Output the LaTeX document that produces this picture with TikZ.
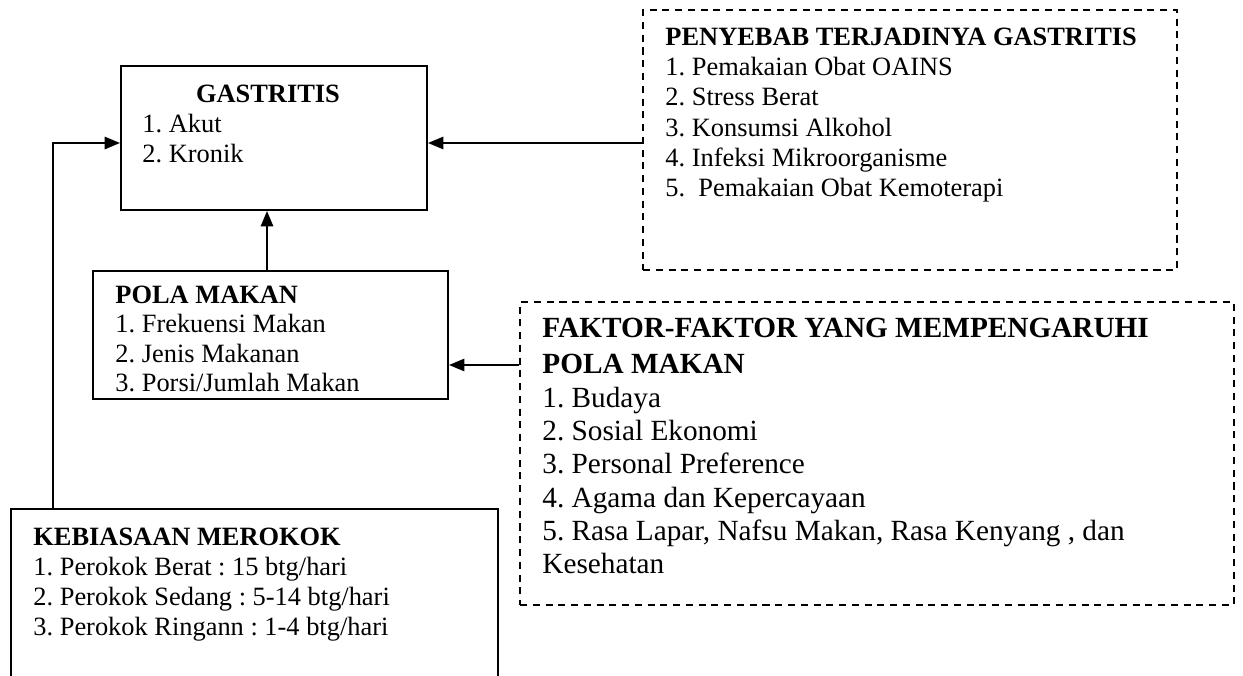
\documentclass[tikz,border=0pt]{standalone}
\usepackage{fontspec}
\setmainfont{Liberation Serif}
\usetikzlibrary{arrows.meta,fit}
\frenchspacing
\begin{document}
\begin{tikzpicture}[x=0.4545pt,y=-0.4545pt,
  box/.style={draw,line width=0.9pt,inner sep=0pt},
  dbox/.style={draw,line width=0.9pt,inner sep=0pt,dash pattern=on 3.2pt off 2.6pt},
  arr/.style={line width=0.9pt,-{Triangle[length=7pt,width=5.6pt]}},
  txt/.style={anchor=base west,inner sep=0pt,font=\fontsize{12}{13.6}\selectfont\frenchspacing},
  btxt/.style={txt,font=\fontsize{12}{13.6}\selectfont\bfseries\frenchspacing},
  ftxt/.style={anchor=base west,inner sep=0pt,font=\fontsize{13.3}{15}\selectfont\frenchspacing},
  fbtxt/.style={ftxt,font=\fontsize{13.3}{15}\selectfont\bfseries\frenchspacing}]
\useasboundingbox (0,0) rectangle (1243,675);
% boxes
\node[box,fit={(121,66) (427,210)}] (gas) {};
\node[dbox,fit={(643,10) (1177,270)}] (peny) {};
\node[box,fit={(93,271) (448,399)}] (pola) {};
\node[dbox,fit={(520,302) (1234,605)}] (fak) {};
\node[inner sep=0pt,fit={(11,509) (498,680)}] (keb) {};
\draw[line width=0.9pt] (keb.south west) -- (keb.north west) -- (keb.north east) -- (keb.south east);
% GASTRITIS text
\node[btxt,anchor=base] (gas0) at (268,102) {GASTRITIS};
\node[txt] (gas1) at (142,132) {1. Akut};
\node[txt] (gas2) at (142,162) {2. Kronik};
% PENYEBAB text
\node[btxt] (pen0) at (665,45) {PENYEBAB TERJADINYA GASTRITIS};
\node[txt] (pen1) at (665,75) {1. Pemakaian Obat OAINS};
\node[txt] (pen2) at (665,105) {2. Stress Berat};
\node[txt] (pen3) at (665,136) {3. Konsumsi Alkohol};
\node[txt] (pen4) at (665,166) {4. Infeksi Mikroorganisme};
\node[txt] (pen5) at (665,196) {5.\ \ Pemakaian Obat Kemoterapi};
% POLA MAKAN text
\node[btxt] (pol0) at (115,303) {POLA MAKAN};
\node[txt] (pol1) at (115,332) {1. Frekuensi Makan};
\node[txt] (pol2) at (115,362) {2. Jenis Makanan};
\node[txt] (pol3) at (115,391) {3. Porsi/Jumlah Makan};
% FAKTOR text
\node[fbtxt] (fak0) at (542,337) {FAKTOR-FAKTOR YANG MEMPENGARUHI};
\node[fbtxt] (fak1) at (542,373) {POLA MAKAN};
\node[ftxt] (fak2) at (542,407) {1. Budaya};
\node[ftxt] (fak3) at (542,440) {2. Sosial Ekonomi};
\node[ftxt] (fak4) at (542,473) {3. Personal Preference};
\node[ftxt] (fak5) at (542,507) {4. Agama dan Kepercayaan};
\node[ftxt] (fak6) at (542,540) {5. Rasa Lapar, Nafsu Makan, Rasa Kenyang , dan};
\node[ftxt] (fak7) at (542,573) {Kesehatan};
% KEBIASAAN text
\node[btxt] (keb0) at (33,545) {KEBIASAAN MEROKOK};
\node[txt] (keb1) at (33,575) {1. Perokok Berat : 15 btg/hari};
\node[txt] (keb2) at (33,605) {2. Perokok Sedang : 5-14 btg/hari};
\node[txt] (keb3) at (33,635) {3. Perokok Ringann : 1-4 btg/hari};
% connector helpers
\coordinate (ya) at (0,143);
\coordinate (yb) at (0,365);
\coordinate (xa) at (267,0);
\coordinate (xk) at (53,0);
% connectors
\draw[arr] (peny.west |- ya) -- (gas.east |- ya);
\draw[arr] (pola.north -| xa) -- (gas.south -| xa);
\draw[arr] (fak.west |- yb) -- (pola.east |- yb);
\draw[arr] (keb.north -| xk) |- (gas.west |- ya);
\end{tikzpicture}
\end{document}
